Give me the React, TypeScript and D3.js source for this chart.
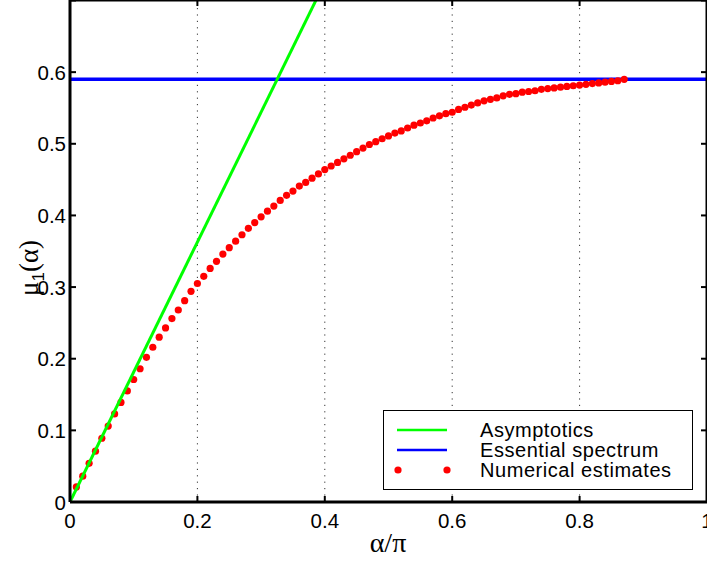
import React from "react";
import * as d3 from "d3";

const alphaOverPi = [
  0.01, 0.02, 0.03, 0.04, 0.05, 0.06, 0.07, 0.08, 0.09, 0.1,
  0.11, 0.12, 0.13, 0.14, 0.15, 0.16, 0.17, 0.18, 0.19, 0.2,
  0.21, 0.22, 0.23, 0.24, 0.25, 0.26, 0.27, 0.28, 0.29, 0.3,
  0.31, 0.32, 0.33, 0.34, 0.35, 0.36, 0.37, 0.38, 0.39, 0.4,
  0.41, 0.42, 0.43, 0.44, 0.45, 0.46, 0.47, 0.48, 0.49, 0.5,
  0.51, 0.52, 0.53, 0.54, 0.55, 0.56, 0.57, 0.58, 0.59, 0.6,
  0.61, 0.62, 0.63, 0.64, 0.65, 0.66, 0.67, 0.68, 0.69, 0.7,
  0.71, 0.72, 0.73, 0.74, 0.75, 0.76, 0.77, 0.78, 0.79, 0.8,
  0.81, 0.82, 0.83, 0.84, 0.85, 0.86, 0.87,
];
const numericalMu = [
  0.021, 0.036, 0.054, 0.071, 0.089, 0.106, 0.123, 0.139, 0.155, 0.171,
  0.186, 0.202, 0.216, 0.230, 0.243, 0.256, 0.268, 0.281, 0.294, 0.305,
  0.315, 0.326, 0.336, 0.346, 0.355, 0.364, 0.373, 0.382, 0.390, 0.398,
  0.406, 0.413, 0.421, 0.428, 0.434, 0.441, 0.446, 0.452, 0.458, 0.464,
  0.469, 0.474, 0.479, 0.484, 0.489, 0.494, 0.499, 0.503, 0.507, 0.511,
  0.515, 0.518, 0.522, 0.526, 0.529, 0.532, 0.536, 0.539, 0.542, 0.544,
  0.548, 0.551, 0.554, 0.557, 0.560, 0.562, 0.564, 0.567, 0.569, 0.570,
  0.572, 0.573, 0.574, 0.576, 0.577, 0.578, 0.579, 0.580, 0.581, 0.582,
  0.583, 0.584, 0.585, 0.586, 0.587, 0.588, 0.590,
];
const asymptoticsX = [0, 0.5];
const asymptoticsY = [0, 0.9069];
const essentialX = [0, 1];
const essentialY = [0.59, 0.59];

const xTicks = [0, 0.2, 0.4, 0.6, 0.8, 1];
const xTickLabels = ["0", "0.2", "0.4", "0.6", "0.8", "1"];
const yTicks = [0, 0.1, 0.2, 0.3, 0.4, 0.5, 0.6, 0.7];
const yTickLabels = ["0", "0.1", "0.2", "0.3", "0.4", "0.5", "0.6", ""];
const gridX = [0.2, 0.4, 0.6, 0.8];
const legendLabels = ["Asymptotics", "Essential spectrum", "Numerical estimates"];

const W = 707;
const H = 565;
const L = 70, R = 707, T = 0.5, B = 502;

export default function App() {
  const x = d3.scaleLinear().domain([0, 1]).range([L, R]);
  const y = d3.scaleLinear().domain([0, 0.7]).range([B, T]);
  const line = d3
    .line<[number, number]>()
    .x((d) => x(d[0]))
    .y((d) => y(d[1]));
  const asym = line(asymptoticsX.map((v, i) => [v, asymptoticsY[i]]) as [number, number][]) || "";
  const ess = line(essentialX.map((v, i) => [v, essentialY[i]]) as [number, number][]) || "";
  const font = "'Liberation Sans', Arial, Helvetica, sans-serif";
  const serif = "'Liberation Serif', 'Times New Roman', serif";
  const tick = 6;
  const lg = { x0: 383.5, y0: 410.5, x1: 692.5, y1: 489.5 };
  const legendRows = [430, 450, 470];
  return (
    <svg
      width={W}
      height={H}
      style={{ position: "absolute", left: 0, top: 0, background: "#fff" }}
    >
      <defs>
        <clipPath id="plotclip">
          <rect x={L} y={0} width={R - L} height={B} />
        </clipPath>
      </defs>
      <rect x={0} y={0} width={W} height={H} fill="#fff" />
      {gridX.map((g) => (
        <line
          key={g}
          x1={x(g)}
          x2={x(g)}
          y1={B}
          y2={T}
          stroke="#333"
          strokeWidth={1}
          strokeDasharray="1.2 5.2"
        />
      ))}
      <g clipPath="url(#plotclip)">
        <path d={ess} stroke="#0000ff" strokeWidth={3.5} fill="none" />
        {alphaOverPi.map((a, i) => (
          <circle key={i} cx={x(a)} cy={y(numericalMu[i])} r={3.6} fill="#ff0000" />
        ))}
        <path d={asym} stroke="#00ff00" strokeWidth={3} fill="none" />
      </g>
      {/* axes box */}
      <line x1={L} x2={L} y1={0} y2={B} stroke="#000" strokeWidth={3} />
      <line x1={L} x2={R} y1={B} y2={B} stroke="#000" strokeWidth={3} />
      <line x1={L} x2={R} y1={0.5} y2={0.5} stroke="#000" strokeWidth={2} />
      <line x1={R - 0.5} x2={R - 0.5} y1={0} y2={B} stroke="#000" strokeWidth={2} />
      {xTicks.map((t) => (
        <g key={"xt" + t}>
          <line x1={x(t)} x2={x(t)} y1={B} y2={B - tick} stroke="#000" strokeWidth={2} />
          <line x1={x(t)} x2={x(t)} y1={0} y2={tick} stroke="#000" strokeWidth={2} />
        </g>
      ))}
      {yTicks.map((t) => (
        <g key={"yt" + t}>
          <line x1={L} x2={L + tick} y1={y(t)} y2={y(t)} stroke="#000" strokeWidth={2} />
          <line x1={R} x2={R - tick} y1={y(t)} y2={y(t)} stroke="#000" strokeWidth={2} />
        </g>
      ))}
      {xTicks.map((t, i) => (
        <text
          key={"xl" + t}
          x={x(t)}
          y={528}
          textAnchor="middle"
          fontFamily={font}
          fontSize={20.5}
          fill="#000"
        >
          {xTickLabels[i]}
        </text>
      ))}
      {yTicks.map((t, i) => (
        <text
          key={"yl" + t}
          x={66}
          y={y(t) + 7.5}
          textAnchor="end"
          fontFamily={font}
          fontSize={20.5}
          fill="#000"
        >
          {yTickLabels[i]}
        </text>
      ))}
      {/* axis labels */}
      <text x={388} y={552} textAnchor="middle" fontFamily={serif} fontSize={28} fill="#000">
        α/π
      </text>
      <text
        transform="translate(38,268) rotate(-90)"
        textAnchor="middle"
        fontFamily={serif}
        fontSize={27}
        fill="#000"
      >
        <tspan>μ</tspan>
        <tspan fontFamily={font} fontSize={17} dy={6}>1</tspan>
        <tspan dy={-6}>(α)</tspan>
      </text>
      {/* legend */}
      <rect
        x={lg.x0}
        y={lg.y0}
        width={lg.x1 - lg.x0}
        height={lg.y1 - lg.y0}
        fill="#fff"
        stroke="#000"
        strokeWidth={1}
      />
      <line x1={397} x2={447} y1={legendRows[0]} y2={legendRows[0]} stroke="#00ff00" strokeWidth={2.5} />
      <line x1={397} x2={447} y1={legendRows[1]} y2={legendRows[1]} stroke="#0000ff" strokeWidth={2.5} />
      <circle cx={398} cy={legendRows[2]} r={3.6} fill="#ff0000" />
      <circle cx={447} cy={legendRows[2]} r={3.6} fill="#ff0000" />
      {legendLabels.map((l, i) => (
        <text
          key={l}
          x={480}
          y={legendRows[i] + 7}
          fontFamily={font}
          fontSize={20}
          letterSpacing={0.55}
          fill="#000"
        >
          {l}
        </text>
      ))}
    </svg>
  );
}
